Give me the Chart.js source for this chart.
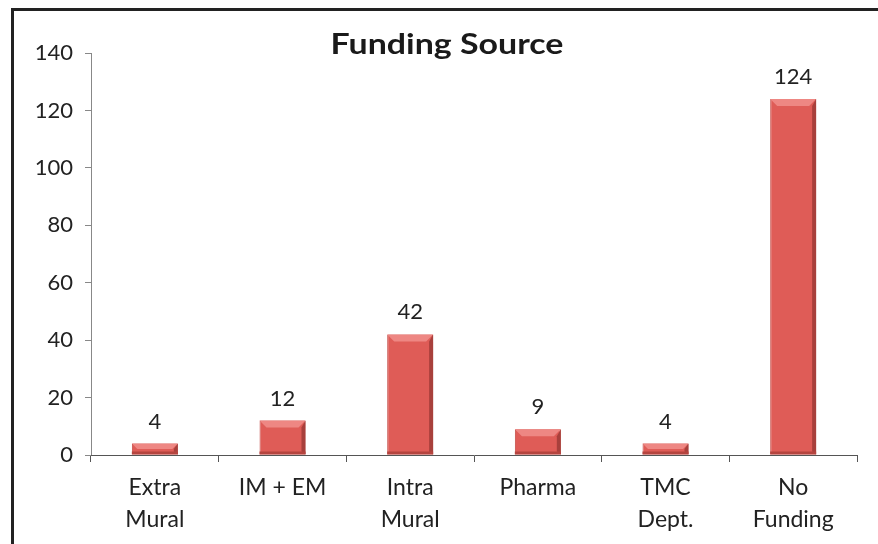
<!DOCTYPE html>
<html>
<head>
<meta charset="utf-8">
<script src="https://cdn.jsdelivr.net/npm/chart.js@4/dist/chart.umd.min.js"></script>
<style>
  html, body { margin: 0; padding: 0; background: #fff; overflow: hidden; }
  #wrap { position: relative; width: 878px; height: 544px; }
  #frame { position: absolute; left: 11px; top: 8px; width: 900px; height: 600px;
           border-top: 3px solid #222; border-left: 3px solid #222; pointer-events: none; }
</style>
</head>
<body>
<div id="wrap">
  <canvas id="grafico" width="878" height="544"></canvas>
  <div id="frame"></div>
</div>
<script>
// Datos
var categorias = [["Extra", "Mural"], "IM + EM", ["Intra", "Mural"], "Pharma", ["TMC", "Dept."], ["No", "Funding"]];
var valores = [4, 12, 42, 9, 4, 124];
var ticksY = [0, 20, 40, 60, 80, 100, 120, 140];
var titulo = "Funding Source";

// titulo, bisel de las barras y etiquetas de valores
var extras = {
  id: "extras",
  afterDatasetsDraw: function(chart) {
    var ctx = chart.ctx;
    var meta = chart.getDatasetMeta(0);
    ctx.save();
    meta.data.forEach(function(bar, i) {
      var l = bar.x - bar.width / 2, r = bar.x + bar.width / 2;
      var t = bar.y, b = bar.base;
      var bev = Math.min(7, (b - t) / 2);
      // bisel superior
      ctx.fillStyle = "#ee8783";
      ctx.beginPath();
      ctx.moveTo(l, t); ctx.lineTo(r, t); ctx.lineTo(r - bev, t + bev); ctx.lineTo(l + bev, t + bev);
      ctx.closePath(); ctx.fill();
      // lado derecho oscuro
      ctx.fillStyle = "#a8403c";
      ctx.beginPath();
      ctx.moveTo(r, t); ctx.lineTo(r, b); ctx.lineTo(r - 4, b - 3); ctx.lineTo(r - 4, t + bev);
      ctx.closePath(); ctx.fill();
      // borde inferior
      ctx.fillStyle = "#b5443f";
      ctx.fillRect(l, b - 3, bar.width, 3);
      // valor
      ctx.fillStyle = "#222";
      ctx.font = "22px Lato";
      ctx.textAlign = "center";
      ctx.textBaseline = "middle";
      ctx.fillText(valores[i], bar.x, t - 22);
    });
    // titulo un poco ensanchado
    ctx.fillStyle = "#1a1a1a";
    ctx.font = "bold 29px Lato";
    ctx.textAlign = "center";
    ctx.textBaseline = "middle";
    ctx.translate(447, 45);
    ctx.scale(1.17, 1);
    ctx.fillText(titulo, 0, 0);
    ctx.restore();
  }
};

var graficoCanvas = document.getElementById("grafico");
new Chart(graficoCanvas, {
  type: "bar",
  data: {
    labels: categorias,
    datasets: [{
      data: valores,
      backgroundColor: "#df5c57",
      borderColor: "#c44a45",
      borderWidth: 1,
      barPercentage: 0.45,
      categoryPercentage: 0.8
    }]
  },
  options: {
    responsive: false,
    animation: false,
    layout: { padding: { top: 53, right: 21, left: 0, bottom: 0 } },
    plugins: { legend: { display: false }, tooltip: { enabled: false } },
    scales: {
      y: {
        min: 0, max: 140,
        afterBuildTicks: function(scale) { scale.ticks = ticksY.map(function(v) { return { value: v }; }); },
        afterFit: function(scale) { scale.width = 91; },
        grid: { drawOnChartArea: false, tickLength: 6, color: "#888" },
        border: { color: "#888", width: 1 },
        ticks: { color: "#222", font: { family: "Lato", size: 22 }, padding: 12 }
      },
      x: {
        afterFit: function(scale) { scale.height = 89; },
        grid: { drawOnChartArea: false, offset: true, tickLength: 7, color: "#555" },
        border: { color: "#555", width: 1 },
        ticks: { color: "#222", font: { family: "Lato", size: 23, lineHeight: 1.4 }, padding: 9, maxRotation: 0 }
      }
    }
  },
  plugins: [extras]
});
</script>
</body>
</html>
